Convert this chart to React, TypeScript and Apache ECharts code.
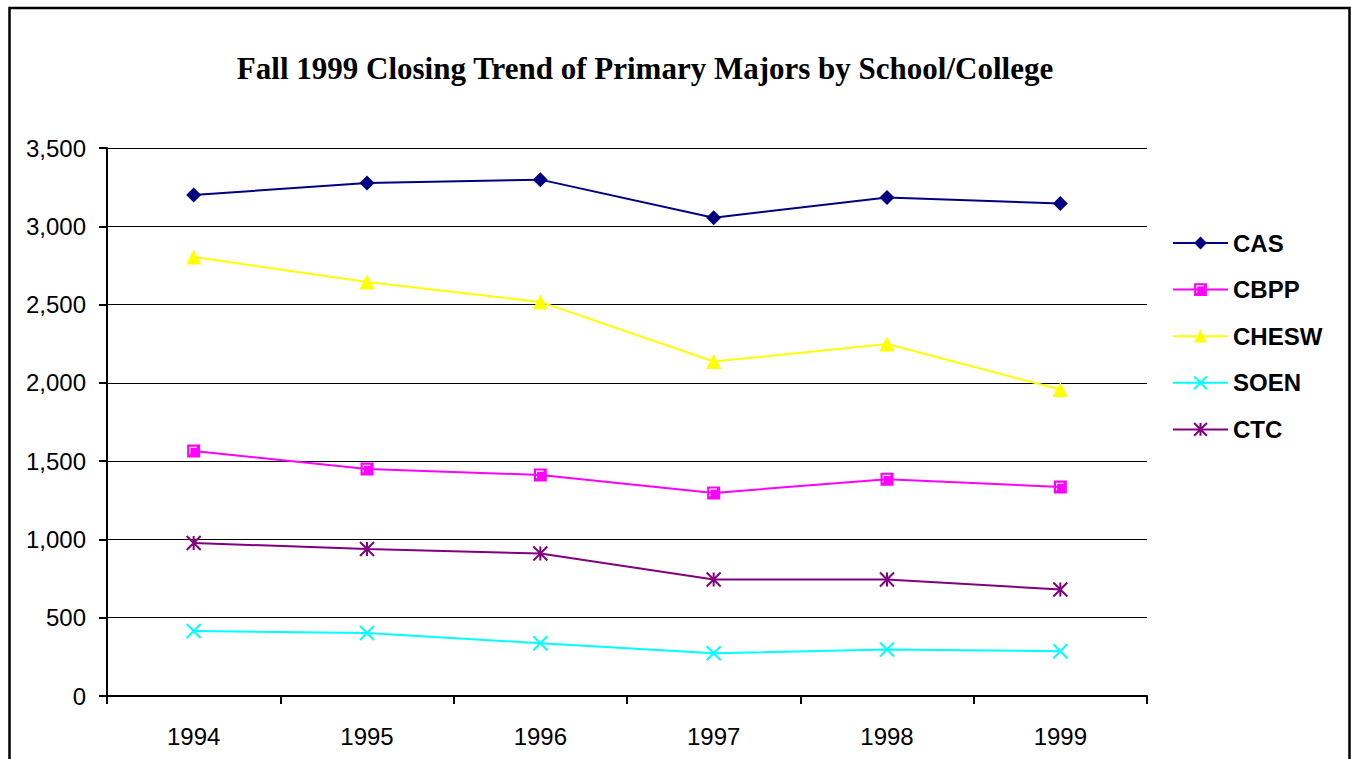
import React, { useEffect, useRef } from "react";
import * as echarts from "echarts";

const years = ["1994", "1995", "1996", "1997", "1998", "1999"];
const cas = [3200, 3276, 3298, 3055, 3184, 3146];
const cbpp = [1565, 1450, 1412, 1297, 1385, 1335];
const chesw = [2804, 2644, 2517, 2136, 2248, 1957];
const soen = [415, 402, 337, 273, 297, 286];
const ctc = [977, 939, 910, 744, 744, 680];

const titleText = "Fall 1999 Closing Trend of Primary Majors by School/College";

const squareSym = "path://M0 0 L12 0 L12 12 L0 12 Z M2 2 L2 9 L3 9 L3 3 L9 3 L9 2 Z";
const xSym = "path://M0 0 L14 14 M14 0 L0 14";
const starSym = "path://M0 0 L14 14 M14 0 L0 14 M7 0 L7 14";

export default function App() {
  const ref = useRef<HTMLDivElement>(null);
  useEffect(() => {
    if (!ref.current) return;
    const chart = echarts.init(ref.current, null, { renderer: "svg" });
    const font = "'Liberation Sans', Arial, sans-serif";
    const mk = (name: string, data: number[], color: string, symbol: string, size: number, stroke?: boolean) => ({
      name,
      type: "line",
      data,
      symbol,
      symbolSize: size,
      showAllSymbol: true,
      lineStyle: { color, width: 2 },
      itemStyle: stroke
        ? { color, borderColor: color, borderWidth: 2 }
        : { color, borderWidth: 0 },
      emphasis: { disabled: true },
    });
    chart.setOption({
      animation: false,
      backgroundColor: "#ffffff",
      graphic: [
        {
          type: "rect",
          shape: { x: 9.5, y: 8, width: 1340, height: 800 },
          style: { fill: "none", stroke: "#000", lineWidth: 2.5 },
          silent: true,
        },
        {
          type: "text",
          x: 645,
          y: 68,
          style: {
            text: titleText,
            fill: "#000",
            font: "bold 31px 'Liberation Serif', 'Times New Roman', serif",
            textAlign: "center",
            textVerticalAlign: "middle",
          },
          silent: true,
        },
      ],
      grid: { left: 107, right: 204, top: 148, bottom: 63 },
      legend: {
        orient: "vertical",
        left: 1167,
        top: 226,
        itemWidth: 55,
        itemHeight: 16,
        itemGap: 22.6,
        data: ["CAS", "CBPP", "CHESW", "SOEN", "CTC"],
        textStyle: { color: "#000", fontSize: 24, fontWeight: "bold", fontFamily: font, lineHeight: 24 },
      },
      xAxis: {
        type: "category",
        data: years,
        boundaryGap: true,
        axisLine: { show: true, lineStyle: { color: "#000", width: 2 } },
        axisTick: { show: true, length: 8, alignWithLabel: false, lineStyle: { color: "#000", width: 2 } },
        axisLabel: { color: "#000", fontSize: 24, fontFamily: font, margin: 28 },
        splitLine: { show: false },
      },
      yAxis: {
        type: "value",
        min: 0,
        max: 3500,
        interval: 500,
        axisLine: { show: true, lineStyle: { color: "#000", width: 2 } },
        axisTick: { show: true, length: 8, lineStyle: { color: "#000", width: 2 } },
        axisLabel: {
          color: "#000",
          fontSize: 24,
          fontFamily: font,
          margin: 21,
          formatter: (v: number) => v.toLocaleString("en-US"),
        },
        splitLine: { show: true, lineStyle: { color: "#000", width: 1 } },
      },
      series: [
        mk("CAS", cas, "#000080", "diamond", 15),
        mk("CBPP", cbpp, "#FF00FF", squareSym, 13),
        mk("CHESW", chesw, "#FFFF00", "triangle", 15),
        mk("SOEN", soen, "#00FFFF", xSym, 14, true),
        mk("CTC", ctc, "#800080", starSym, 14, true),
      ],
    });
    return () => chart.dispose();
  }, []);
  return (
    <div
      ref={ref}
      style={{ position: "fixed", left: 0, top: 0, width: 1351, height: 759, background: "#fff" }}
    />
  );
}
